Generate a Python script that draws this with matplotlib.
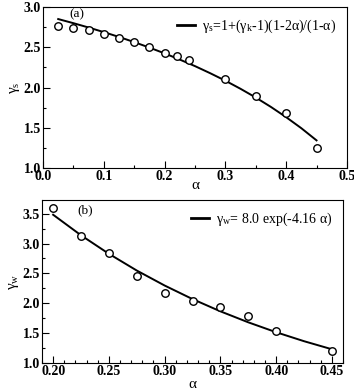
import matplotlib
matplotlib.use("Agg")
import matplotlib.pyplot as plt
from matplotlib.ticker import MultipleLocator, FormatStrFormatter

plt.rcParams['font.family'] = ['Liberation Serif', 'DejaVu Serif']
plt.rcParams['mathtext.fontset'] = 'stix'

# panel (a): measured points and model curve
alpha_a = [0.025, 0.05, 0.075, 0.1, 0.125, 0.15, 0.175, 0.2, 0.22, 0.24, 0.3, 0.35, 0.4, 0.45]
gamma_s = [2.77, 2.74, 2.71, 2.67, 2.62, 2.565, 2.505, 2.435, 2.395, 2.34, 2.11, 1.895, 1.68, 1.25]
alpha_a_fit = [0.025, 0.05, 0.075, 0.1, 0.125, 0.15, 0.175, 0.2, 0.225, 0.25, 0.275,
               0.3, 0.325, 0.35, 0.375, 0.4, 0.425, 0.45]
gamma_s_fit = [2.851, 2.800, 2.746, 2.689, 2.629, 2.565, 2.497, 2.425, 2.348, 2.267, 2.179,
               2.086, 1.985, 1.877, 1.760, 1.633, 1.496, 1.345]

# panel (b)
alpha_b = [0.2, 0.225, 0.25, 0.275, 0.3, 0.325, 0.35, 0.375, 0.4, 0.45]
gamma_w = [3.595, 3.12, 2.84, 2.455, 2.18, 2.04, 1.94, 1.79, 1.54, 1.205]
alpha_b_fit = [0.2, 0.225, 0.25, 0.275, 0.3, 0.325, 0.35, 0.375, 0.4, 0.425, 0.45]
gamma_w_fit = [3.482, 3.138, 2.828, 2.548, 2.297, 2.070, 1.865, 1.681, 1.515, 1.365, 1.230]

fig = plt.figure(figsize=(3.54, 3.92), dpi=100)
ax1 = fig.add_axes([0.1215, 0.571, 0.8585, 0.411])
ax2 = fig.add_axes([0.1186, 0.074, 0.8504, 0.416])

mk = dict(marker='o', ls='none', ms=5.4, mfc='white', mec='black', mew=1.0)

ax1.plot(alpha_a_fit, gamma_s_fit, color='black', lw=1.4,
         label='γ$_\\mathregular{s}$=1+(γ$_\\mathregular{k}$-1)(1-2α)/(1-α)')
ax1.plot(alpha_a, gamma_s, **mk)
ax1.set_xlim(0.0, 0.5)
ax1.set_ylim(1.0, 3.0)
ax1.xaxis.set_major_locator(MultipleLocator(0.1))
ax1.xaxis.set_minor_locator(MultipleLocator(0.05))
ax1.yaxis.set_major_locator(MultipleLocator(0.5))
ax1.yaxis.set_minor_locator(MultipleLocator(0.25))
ax1.xaxis.set_major_formatter(FormatStrFormatter('%.1f'))
ax1.yaxis.set_major_formatter(FormatStrFormatter('%.1f'))
ax1.set_xlabel('α', fontsize=11, labelpad=-3)
ax1.set_ylabel('γ$_\\mathregular{s}$', fontsize=11, labelpad=1)
ax1.text(0.056, 2.91, '(a)', fontsize=9.5, ha='center', va='center')

ax2.plot(alpha_b_fit, gamma_w_fit, color='black', lw=1.4,
         label='γ$_\\mathregular{w}$= 8.0 exp(-4.16 α)')
ax2.plot(alpha_b, gamma_w, **mk)
ax2.set_xlim(0.19, 0.46)
ax2.set_ylim(1.0, 3.73)
ax2.xaxis.set_major_locator(MultipleLocator(0.05))
ax2.xaxis.set_minor_locator(MultipleLocator(0.01))
ax2.yaxis.set_major_locator(MultipleLocator(0.5))
ax2.yaxis.set_minor_locator(MultipleLocator(0.25))
ax2.xaxis.set_major_formatter(FormatStrFormatter('%.2f'))
ax2.yaxis.set_major_formatter(FormatStrFormatter('%.1f'))
ax2.set_xlabel('α', fontsize=11, labelpad=0)
ax2.set_ylabel('γ$_\\mathregular{w}$', fontsize=11, labelpad=1)
ax2.text(0.2287, 3.55, '(b)', fontsize=9.5, ha='center', va='center')

for ax in (ax1, ax2):
    for s in ax.spines.values():
        s.set_linewidth(0.8)
    ax.tick_params(which='both', direction='in', top=False, right=False)
    ax.tick_params(which='major', length=5, width=0.8, labelsize=10, pad=1.5)
    ax.tick_params(which='minor', length=2.5, width=0.8)
    for lab in ax.get_xticklabels() + ax.get_yticklabels():
        lab.set_fontweight('bold')
    leg = ax.legend(loc='upper right', frameon=False, fontsize=10, handlelength=1.3,
                    handletextpad=0.5, borderaxespad=0.35)
    leg.get_lines()[0].set_linewidth(2.0)

fig.savefig('out.png', dpi=100)
